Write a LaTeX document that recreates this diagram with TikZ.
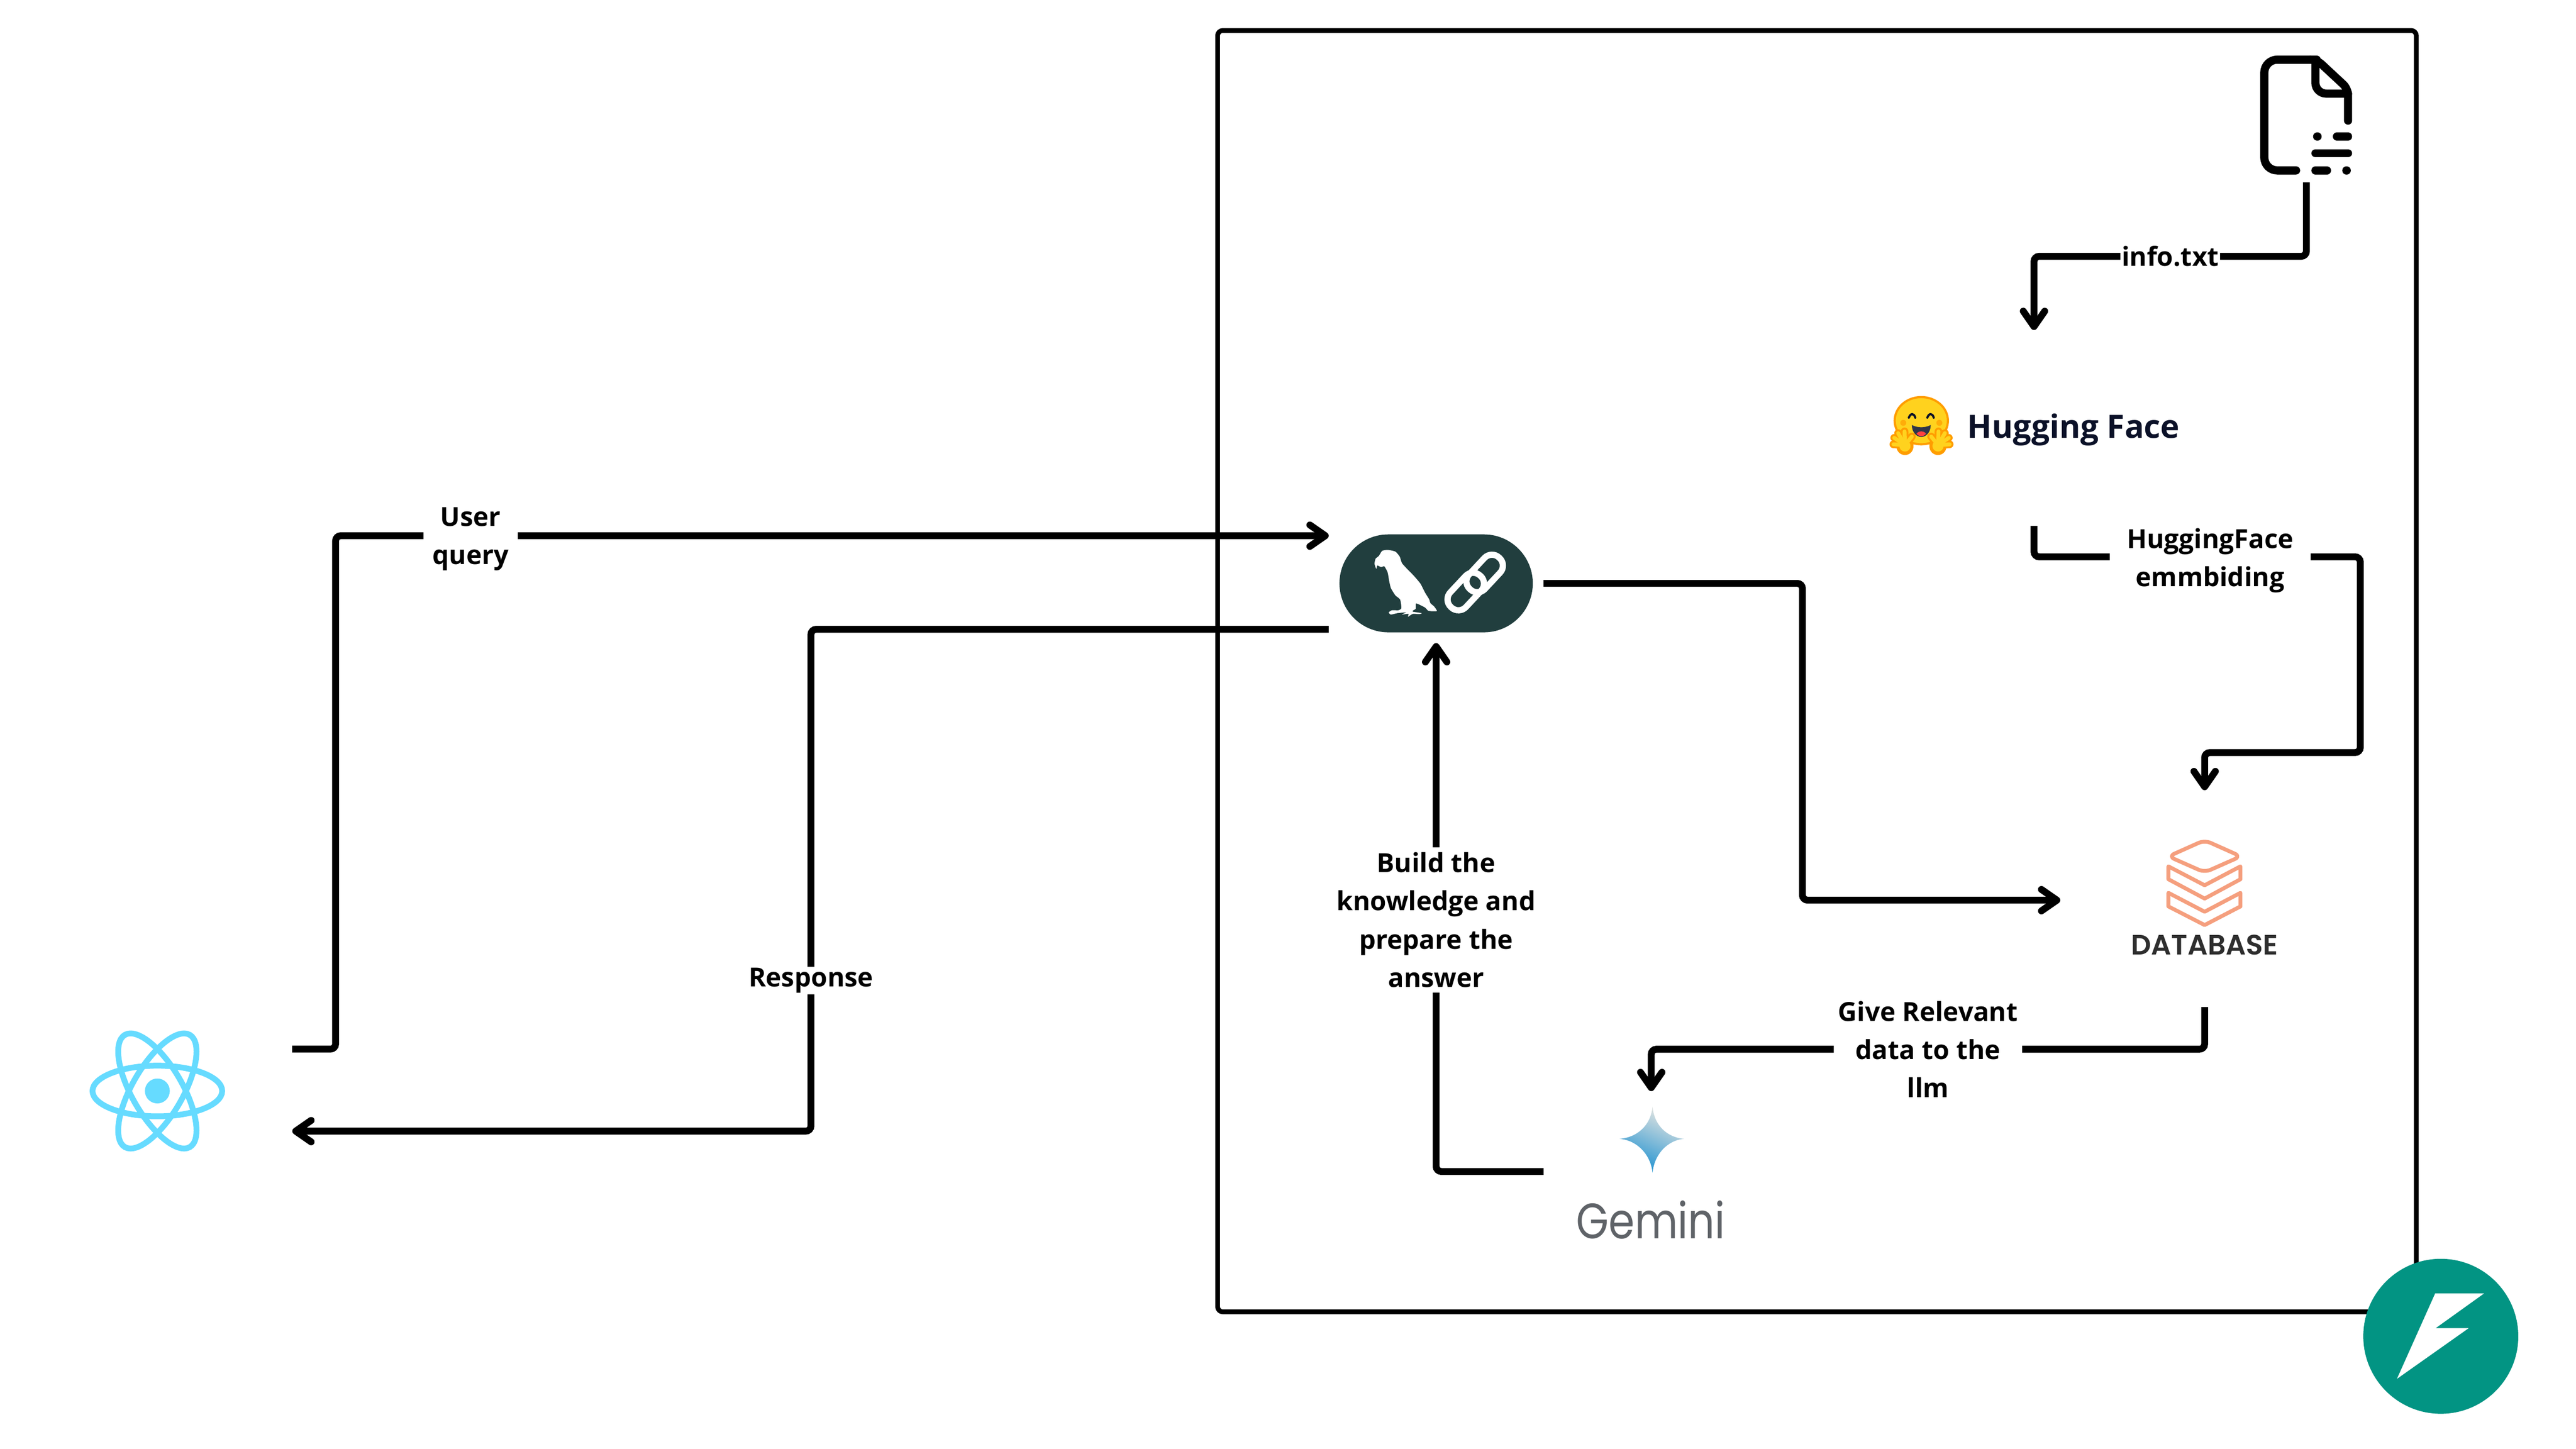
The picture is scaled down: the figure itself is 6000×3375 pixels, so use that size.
\documentclass[tikz,border=0pt]{standalone}
\usepackage{fontspec}
\setmainfont{Open Sans}
\newfontfamily\popfont{Poppins}
\newfontfamily\popsemi{Poppins SemiBold}
\usetikzlibrary{arrows.meta}
\definecolor{lcgreen}{HTML}{213E3E}
\definecolor{reactblue}{HTML}{66DBFF}
\definecolor{dbsalmon}{HTML}{F59F7E}
\definecolor{hfyellow}{HTML}{FFD21E}
\definecolor{hforange}{HTML}{FF9D00}
\definecolor{hfnavy}{HTML}{0B1128}
\definecolor{badgegreen}{HTML}{029483}
\definecolor{gemgrey}{HTML}{5F6368}
\definecolor{gemtop}{HTML}{E8E6E1}
\definecolor{gemmid}{HTML}{80BDE6}
\definecolor{gembot}{HTML}{1B90D0}
\tikzset{
  >={Straight Barb[round,length=0.36cm,width=0.5cm]},
  conn/.style={line width=0.16cm,rounded corners=0.12cm,black},
  lbl/.style={fill=white,inner ysep=0.03cm,align=center,font=\bfseries\fontsize{17.4}{25.3}\selectfont},
  icon/.style={inner sep=0,minimum width=#1},
  chainlink/.style={draw=white,line width=0.145cm,rounded corners=0.24cm,rotate=47,minimum width=1cm,minimum height=0.5cm,inner sep=0},
}
\begin{document}
\begin{tikzpicture}[x=0.01cm,y=-0.01cm]
  \useasboundingbox (0,0) rectangle (6000,3375);
  \fill[white] (0,0) rectangle (6000,3375);
  \draw[line width=0.11cm,rounded corners=0.12cm] (2836,71) rectangle (5628,3056);
  \node[icon=3.16cm,minimum height=2.8cm,outer xsep=1.56cm] (react) at (366.5,2541.5) {};
  \node[icon=4.5cm,minimum height=2.28cm,rounded corners=1.14cm,fill=lcgreen,outer sep=0.25cm] (langchain) at (3345,1359) {};
  \node[icon=2.15cm,minimum height=2.77cm,outer ysep=0.18cm] (file) at (5372,268.5) {};
  \node[icon=6.75cm,minimum height=1.37cm,outer ysep=1.54cm] (hf) at (4737.5,991.5) {};
  \node[icon=1.76cm,minimum height=2.07cm,outer xsep=2.48cm,outer ysep=1.11cm] (db) at (5135,2055.5) {};
  \node[icon=1.51cm,minimum height=1.54cm,outer xsep=1.75cm,outer ysep=0.36cm] (gemini) at (3846,2655) {};
  \node[anchor=west,inner sep=0,text=hfnavy,font=\bfseries\fontsize{21.3}{24}\selectfont] (hftext) at (4582,1001) {Hugging Face};
  \node[inner sep=0,text=black!82,font=\popsemi\fontsize{18.6}{20}\selectfont] (dbtext) at (5135,2201) {DATABASE};
  \node[inner sep=0,text=gemgrey,font=\popfont\fontsize{33}{36}\selectfont,transform shape,xscale=0.84] (gemtext) at (3845,2842) {Gemini};

  \draw[conn,->] ([yshift=0.975cm]react.east) -- ++(101,0) |- node[lbl,pos=0.568,inner xsep=0.21cm,yshift=-0.08cm] {User\\query} ([yshift=1.11cm]langchain.west);
  \draw[conn,->] ([yshift=-1.07cm]langchain.west) -- ++(-1206,0) |- node[lbl,pos=0.35,inner xsep=0.03cm] {Response} ([yshift=-0.935cm]react.east);
  \draw[conn,->] (langchain.east) -- ++(603,0) |- ([yshift=-0.415cm]db.west);
  \draw[conn,->] (file.south) -- ++(0,172) -| node[lbl,pos=0.25,inner xsep=0.03cm] {info.txt} (hf.north);
  \draw[conn,->] ([yshift=-0.11cm]hf.south) -- ++(0,72) -- node[lbl,pos=0.54,inner xsep=0.4cm,yshift=-0.09cm] {HuggingFace\\emmbiding} ++(760,0) -- ++(0,456) -| (db.north);
  \draw[conn,->] ([yshift=-0.76cm]db.south) -- ++(0,98) -| node[lbl,pos=0.25,inner xsep=0.1cm] {Give Relevant\\data to the\\llm} (gemini.north);
  \draw[conn,->] ([yshift=-0.74cm]gemini.west) -| node[lbl,pos=0.738,inner xsep=0.03cm,inner ysep=0.12cm] {Build the\\knowledge and\\prepare the\\answer} (langchain.south);

  \foreach \ang in {0,60,120}
    \draw[reactblue,line width=0.135cm,rotate around={\ang:(366.5,2541.5)}] (366.5,2541.5) ellipse [x radius=151,y radius=59];
  \fill[reactblue] (366.5,2541.5) circle [radius=29];

  \begin{scope}[shift={(3000,1180)},xscale=0.51,yscale=0.3333]
    \fill[white] plot[smooth cycle,tension=0.35] coordinates {(415,345) (430,310) (455,303) (490,315) (510,350) (520,395) (540,430) (575,485) (605,540) (625,600) (645,650) (650,675) (668,700) (680,730) (660,732) (640,728) (625,705) (585,677) (583,715) (572,725) (570,735) (610,745) (600,752) (570,750) (548,770) (550,750) (520,755) (540,740) (500,745) (470,755) (460,740) (475,725) (505,725) (518,710) (512,650) (490,620) (470,570) (462,520) (455,460) (440,418) (425,423) (408,412) (403,435) (395,400) (400,365)};
  \end{scope}
  \node[chainlink] (linkb) at (3414,1378) {};
  \node[chainlink] (linka) at (3458,1336) {};

  \begin{scope}[line width=0.19cm,line cap=round,line join=round]
    \draw[rounded corners=0.3cm] (5348,397) -- (5274,397) -- (5274,139) -- (5396,139);
    \draw[rounded corners=0.15cm] (5380,139) -- (5396,139) -- (5469,207) -- (5469,281);
    \draw[rounded corners=0.25cm] (5393,148) -- (5393,218) -- (5469,218);
    \draw (5397,318) -- (5398,318) (5443,318) -- (5469,318);
    \draw (5393,357) -- (5469,357);
    \draw (5393,397) -- (5420,397) (5465,397) -- (5466,397);
  \end{scope}

  \fill[hfyellow,draw=hforange,line width=0.05cm] (4475,980) ellipse [x radius=62,y radius=55];
  \fill[hforange!70!hfyellow] (4433,985) circle [radius=7] (4517,985) circle [radius=7];
  \draw[hfnavy,line width=0.05cm,line cap=round] (4446,973) .. controls (4450,962) and (4458,962) .. (4461,973);
  \draw[hfnavy,line width=0.05cm,line cap=round] (4489,973) .. controls (4493,962) and (4501,962) .. (4504,973);
  \fill[hfnavy!85] (4453,990) .. controls (4465,997) and (4485,997) .. (4497,990) .. controls (4497,1008) and (4485,1018) .. (4475,1018) .. controls (4465,1018) and (4453,1008) .. (4453,990) -- cycle;
  \fill[red!75!white] (4464,1010) .. controls (4470,1003) and (4480,1003) .. (4486,1010) .. controls (4482,1018) and (4468,1018) .. (4464,1010) -- cycle;
  \foreach \px/\dir in {4437/-1,4514/1} {
    \foreach \dx/\dy in {27/-2,25/-17,16/-28,1/-32,-16/-20} {
      \draw[hforange,line width=0.18cm,line cap=round] (\px,1037) -- ++({\dir*\dx},\dy);
    }
    \draw[hforange,line width=0.4cm,line cap=round] (\px,1037) -- ++(0,3);
    \foreach \dx/\dy in {27/-2,25/-17,16/-28,1/-32,-16/-20} {
      \draw[hfyellow,line width=0.09cm,line cap=round] (\px,1037) -- ++({\dir*\dx},\dy);
    }
    \fill[hfyellow] (\px,1039) circle [radius=13];
  }

  \begin{scope}[shift={(4900,1900)},xscale=0.3333,yscale=0.3333,draw=dbsalmon,line width=0.09cm,line join=round]
    \draw[rounded corners=0.15cm] (452,285) -- (705,172) -- (958,285) -- (705,397) -- cycle;
    \draw (452,355) -- (705,487) -- (955,355) -- (955,445) -- (705,580) -- (452,445) -- cycle;
    \draw (452,540) -- (705,672) -- (955,540) -- (955,635) -- (705,765) -- (452,635) -- cycle;
  \end{scope}

  \shade[top color=gemtop,middle color=gemmid,bottom color=gembot,shading angle=-25]
    (3849,2578) .. controls (3853,2622) and (3883,2650) .. (3923,2653) .. controls (3883,2656) and (3853,2690) .. (3849,2732) .. controls (3845,2690) and (3813,2656) .. (3772,2653) .. controls (3813,2650) and (3845,2622) .. (3849,2578) -- cycle;

  \fill[badgegreen] (5685,3113) circle [radius=180.5];
  \fill[white] (5672,3013) -- (5786,3013) -- (5673,3094) -- (5750,3094) -- (5583,3212) -- cycle;
\end{tikzpicture}
\end{document}
